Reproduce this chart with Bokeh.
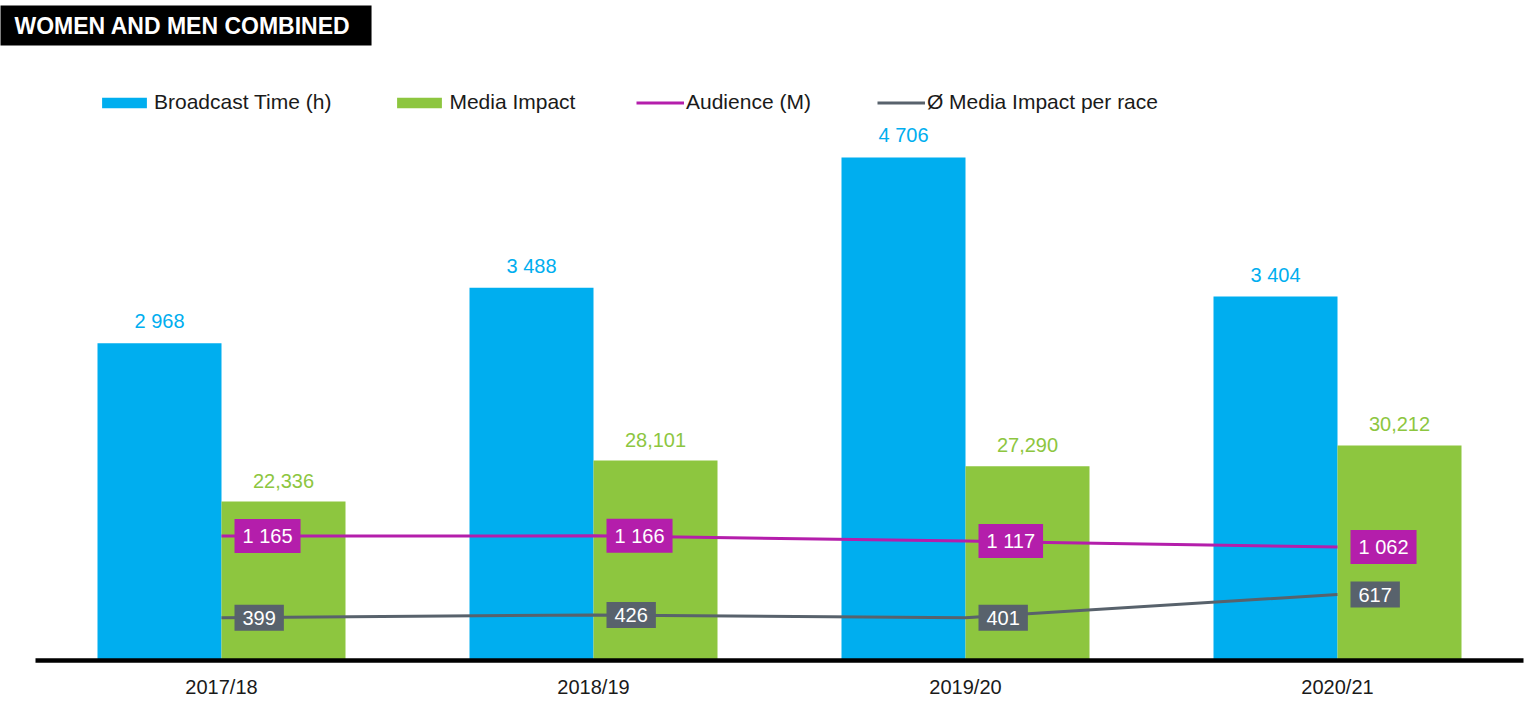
from bokeh.plotting import figure
from bokeh.models import (FactorRange, Range1d, Legend, LegendItem, Title,
                          ColumnDataSource)
from bokeh.transform import dodge
from bokeh.core.properties import value
from bokeh.embed import file_html
from bokeh.resources import INLINE

# ---------------- data ----------------
seasons = ["2017/18", "2018/19", "2019/20", "2020/21"]
broadcast_h = [2968, 3488, 4706, 3404]
media_impact = [22336, 28101, 27290, 30212]
audience_m = [1165, 1166, 1117, 1062]
impact_per_race = [399, 426, 401, 617]

BLUE = "#00AEEF"
GREEN = "#8DC63F"
MAGENTA = "#B41EAB"
GREY = "#58626C"
FONT = "Liberation Sans"

src = ColumnDataSource(dict(
    season=seasons,
    bt=broadcast_h,
    mi=media_impact,
    aud=audience_m,
    pr=impact_per_race,
    bt_lbl=[f"{v:,}".replace(",", " ") for v in broadcast_h],
    mi_lbl=[f"{v:,}" for v in media_impact],
    aud_lbl=[f"{v:,}".replace(",", " ") for v in audience_m],
    pr_lbl=[f"{v:,}".replace(",", " ") for v in impact_per_race],
))

W, H = 1528, 702
TOP, BOTTOM = 45, 660
FRAME_H = BOTTOM - TOP
p = figure(x_range=FactorRange(*seasons), y_range=Range1d(0, FRAME_H / 0.1069),
           width=W, height=H, output_backend="svg", toolbar_location=None,
           min_border_left=35, min_border_right=W - 1523, min_border_top=TOP,
           min_border_bottom=H - BOTTOM)
p.extra_y_ranges = {"mi": Range1d(0, FRAME_H / 0.007117)}

p.title = Title(text="WOMEN AND MEN COMBINED", align="left", offset=-35,
                text_color="white", text_font=FONT,
                text_font_style="bold", text_font_size="23px",
                background_fill_color="black",
                padding=dict(left=14, right=21, top=7, bottom=7), standoff=0)

p.xgrid.visible = False
p.ygrid.visible = False
p.yaxis.visible = False
p.outline_line_color = None
p.background_fill_color = "white"
p.border_fill_color = "white"

ax = p.xaxis[0]
ax.axis_line_color = "black"
ax.axis_line_width = 4.5
ax.major_tick_line_color = None
ax.minor_tick_line_color = None
ax.major_tick_out = 0
ax.major_tick_in = 0
ax.major_label_standoff = 15
ax.major_label_text_font = FONT
ax.major_label_text_font_size = "20px"
ax.major_label_text_color = "#1a1a1a"

# bars
r_bt = p.vbar(x=dodge("season", -1 / 6, range=p.x_range), top="bt", width=1 / 3,
              source=src, fill_color=BLUE, line_color=None)
r_mi = p.vbar(x=dodge("season", 1 / 6, range=p.x_range), top="mi", width=1 / 3,
              source=src, fill_color=GREEN, line_color=None, y_range_name="mi")

# bar value labels
p.text(x=dodge("season", -1 / 6, range=p.x_range), y="bt", text="bt_lbl", source=src,
       text_align="center", text_baseline="middle", y_offset=-22,
       text_color=BLUE, text_font=value(FONT), text_font_size="20px")
p.text(x=dodge("season", 1 / 6, range=p.x_range), y="mi", text="mi_lbl", source=src,
       text_align="center", text_baseline="middle", y_offset=-21,
       text_color=GREEN, text_font=value(FONT), text_font_size="20px",
       y_range_name="mi")

# lines
r_aud = p.line(x="season", y="aud", source=src, line_color=MAGENTA, line_width=3)
r_pr = p.line(x="season", y="pr", source=src, line_color=GREY, line_width=3)

# boxed labels
pad = dict(left=8, right=8, top=6, bottom=6)
p.text(x="season", y="aud", text="aud_lbl", source=src, x_offset=13,
       text_align="left", text_baseline="middle", text_color="white",
       text_font=value(FONT), text_font_size="20px",
       background_fill_color=MAGENTA, padding=pad)
p.text(x="season", y="pr", text="pr_lbl", source=src, x_offset=13,
       text_align="left", text_baseline="middle", text_color="white",
       text_font=value(FONT), text_font_size="20px",
       background_fill_color=GREY, padding=pad)

# legends (bars and lines use different glyph widths)
common = dict(orientation="horizontal", label_standoff=2, label_text_font=FONT,
              label_text_font_size="21px", label_text_color="#1a1a1a", padding=0,
              margin=0, border_line_color=None, background_fill_alpha=0)
legend_bars = Legend(items=[
    LegendItem(label="Broadcast Time (h)", renderers=[r_bt]),
    LegendItem(label="Media Impact", renderers=[r_mi]),
], location=(61, 546), glyph_width=56, glyph_height=13, spacing=60, **common)
legend_lines = Legend(items=[
    LegendItem(label="Audience (M)", renderers=[r_aud]),
    LegendItem(label="Ø Media Impact per race", renderers=[r_pr]),
], location=(601, 546), glyph_width=48, glyph_height=13, spacing=66, **common)
p.add_layout(legend_bars, "center")
p.add_layout(legend_lines, "center")

open("out.html", "w").write(file_html(p, INLINE))
